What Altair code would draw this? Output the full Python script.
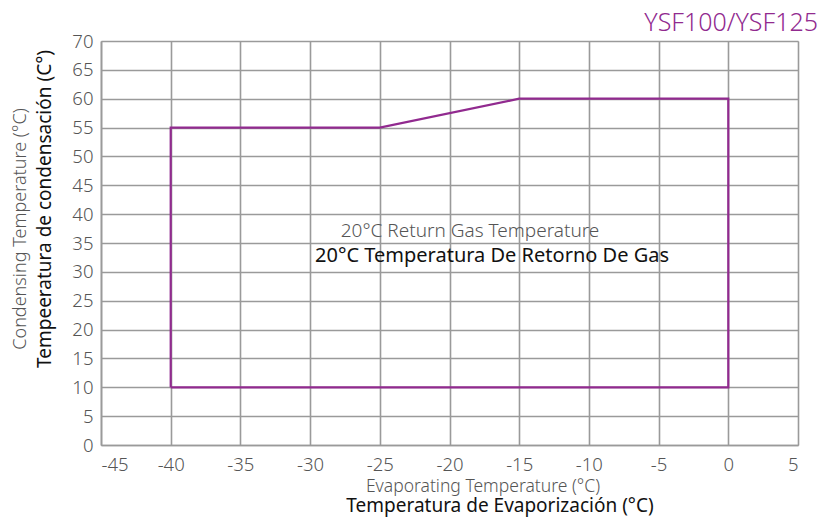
import altair as alt
import pandas as pd

# Envelope boundary (evaporating temp, condensing temp), drawn in order
evap = [-40, -40, -25, -15, 0, 0, -40]
cond = [10, 55, 55, 60, 60, 10, 10]
order = list(range(len(evap)))

x_ticks = list(range(-45, 10, 5))
y_ticks = list(range(0, 75, 5))

df = pd.DataFrame({"evap": evap, "cond": cond, "order": order})

FONT = "Noto Sans"
PURPLE = "#912a8f"
GRID = "#9a9a9a"

W, H = 697, 404

base = alt.Chart(df)

axis_common = dict(
    title=None, grid=True, gridColor=GRID, gridWidth=1.6, domainColor=GRID,
    domainWidth=1.6, ticks=False, labelFontSize=18.5, labelColor="#555555",
    labelFont=FONT, labelFontWeight=300, labelExpr="'' + datum.value",
)

line = base.mark_line(color=PURPLE, strokeWidth=2.2, clip=False).encode(
    x=alt.X("evap:Q", scale=alt.Scale(domain=[-45, 5], nice=False),
            axis=alt.Axis(values=x_ticks, labelPadding=10, **axis_common)),
    y=alt.Y("cond:Q", scale=alt.Scale(domain=[0, 70], nice=False),
            axis=alt.Axis(values=y_ticks, labelPadding=8, **axis_common)),
    order="order:Q",
)

def txt(text, x, y, size, color, weight=400, angle=0, align="center", baseline="middle"):
    return alt.Chart(pd.DataFrame({"t": [text]})).mark_text(
        font=FONT, fontSize=size, color=color, fontWeight=weight, angle=angle,
        align=align, baseline=baseline,
    ).encode(text="t:N", x=alt.value(x), y=alt.value(y))

# page coords -> plot coords: x - 101, y - 41
layers = [
    line,
    txt("YSF100/YSF125", 818 - 101, 31 - 41, 25, PURPLE, 300, align="right",
        baseline="alphabetic"),
    txt("20°C Return Gas Temperature", 470 - 101, 231 - 41, 19, "#555555", 300),
    txt("20°C Temperatura De Retorno De Gas", 492 - 101, 256 - 41, 20, "#111111"),
    txt("Evaporating Temperature (°C)", 483 - 101, 487 - 41, 17.5, "#555555", 300),
    txt("Temperatura de Evaporización (°C)", 500 - 101, 512 - 41, 19, "#111111",
        baseline="alphabetic"),
    txt("Condensing Temperature (°C)", 21 - 101, 229 - 41, 18, "#555555", 300, angle=270),
    txt("Tempeeratura de condensación (C°)", 45 - 101, 209 - 41, 19, "#111111", angle=270),
]

chart = alt.layer(*layers).properties(
    width=W, height=H,
    autosize=alt.AutoSizeParams(type="none"),
    padding={"left": 93, "top": 33, "right": 23, "bottom": 73},
).configure_view(stroke=GRID, strokeWidth=1.6).configure(background="white")

chart.save("out.html", embed_options={"renderer": "svg", "actions": False})
